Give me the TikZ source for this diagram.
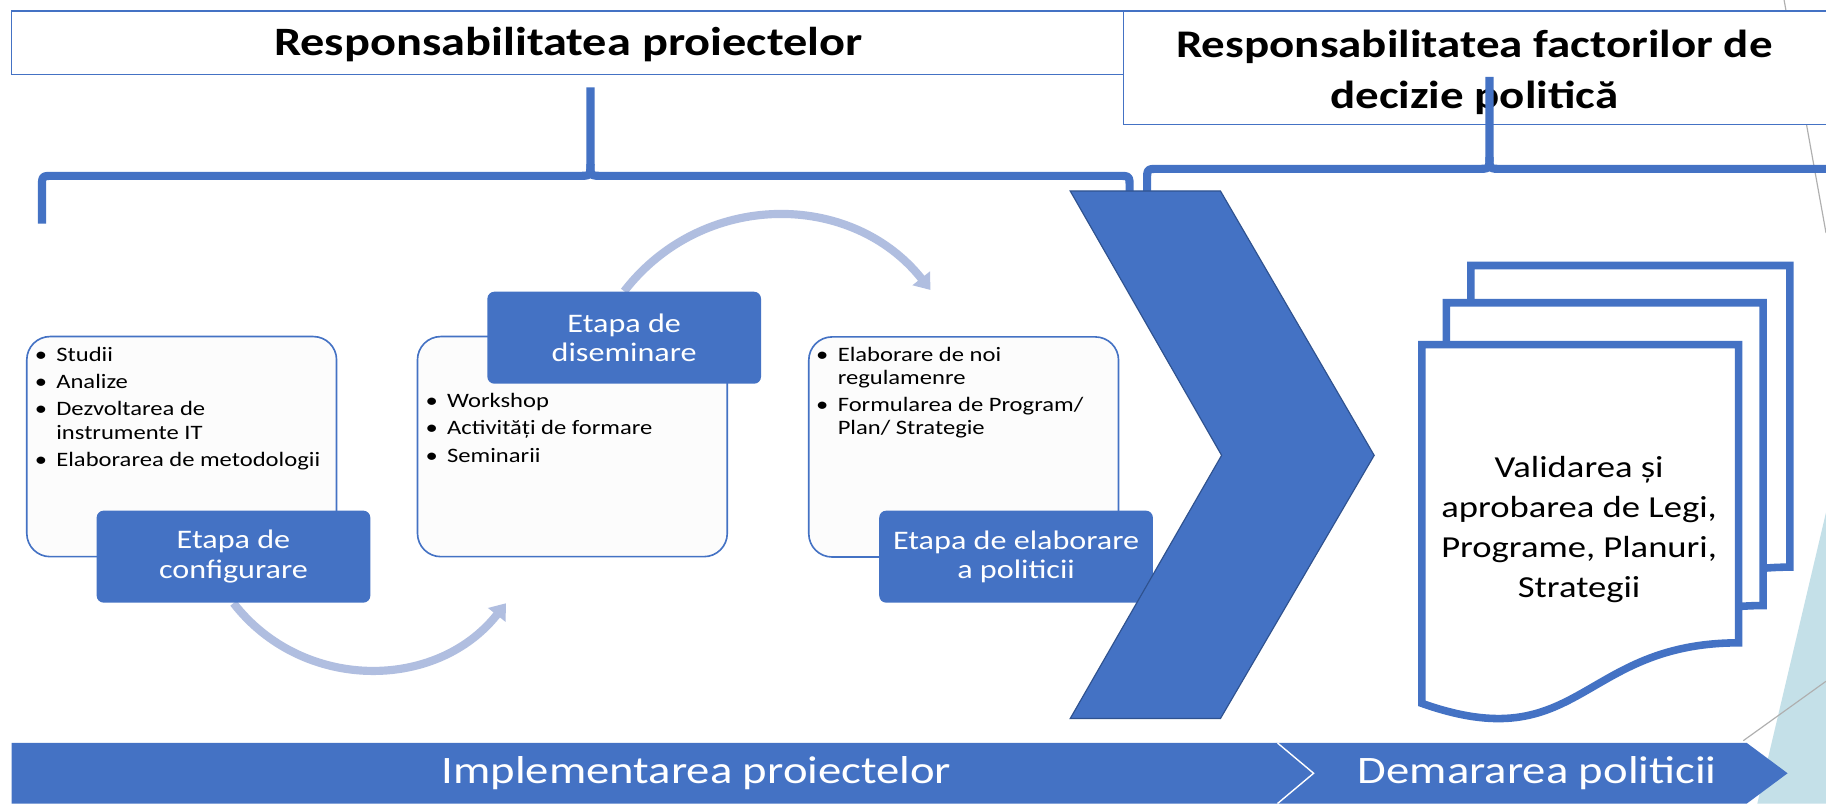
\documentclass[tikz,border=0pt]{standalone}
\usepackage{fontspec}
\setmainfont{Carlito}[FakeStretch=1.2]
\usetikzlibrary{arrows.meta}
\definecolor{pblue}{RGB}{68,114,196}
\definecolor{pedge}{RGB}{47,82,143}
\definecolor{parrow}{RGB}{176,190,224}
\definecolor{pfill}{RGB}{252,252,252}
\definecolor{plight}{RGB}{196,224,232}
\definecolor{pgray}{RGB}{175,175,175}
\pgfdeclarelayer{back}
\pgfsetlayers{back,main}
\newcommand\bul{\llap{\textbullet\hspace{4pt}}}
\newcommand\titlef{\bfseries\fontsize{17.3}{22}\selectfont}
\newcommand\titlefb{\bfseries\fontsize{16.8}{22}\selectfont}
\begin{document}
\begin{tikzpicture}[x=0.5pt,y=-0.5pt,
  tbox/.style={draw=pblue, line width=0.6pt, fill=white, inner sep=0pt},
  cbox/.style={draw=pblue, line width=0.7pt, fill=pfill, rounded corners=10pt,
    minimum width=133pt, minimum height=94.5pt, inner sep=0pt},
  lbox/.style={fill=pblue, rounded corners=3pt, minimum width=117.5pt,
    minimum height=39.5pt, text=white, align=center,
    font=\fontsize{11.5}{12.6}\selectfont, inner sep=0pt},
  blist/.style={anchor=base west, inner sep=0pt, font=\fontsize{8.8}{10}\selectfont},
  flow/.style={draw=parrow, line width=3.5pt, -{Triangle[width=9.2pt,length=6.4pt]}},
  brace/.style={draw=pblue, line width=3.5pt, line join=round},
  doc/.style={draw=pblue, fill=white, line width=3.25pt},
  doctext/.style={align=center, inner sep=0pt, font=\fontsize{13.1}{17.2}\selectfont},
  bar/.style={fill=pblue},
  bartext/.style={text=white, inner sep=0pt, font=\fontsize{16.7}{20}\selectfont},
  decor/.style={draw=pgray, line width=0.5pt}
]
\useasboundingbox (0,0) rectangle (1568,690);
\clip (0,0) rectangle (1568,690);

% title boxes
\node[tbox, minimum width=478pt, minimum height=27.25pt, font=\titlef,
      text height=11.2pt, text depth=0pt] (t1) at (488,36.75) {Responsabilitatea proiectelor};
\node[tbox, minimum width=303.5pt, minimum height=48.75pt] (t2) at (1268.5,58.25) {};
\node[font=\titlefb, align=center, inner sep=0pt] (t2txt) at (1266,62)
  {Responsabilitatea factorilor de\\decizie politică};

% braces
\draw[brace] (36,192) -- (36,161) .. controls (36,151) .. (46,151) -- (497,151)
  .. controls (507,151) .. (507,141) -- (507,75);
\draw[brace] (507,141) .. controls (507,151) .. (517,151) -- (960,151)
  .. controls (970,151) .. (970,161) -- (970,172);
\draw[brace] (985,172) -- (985,155) .. controls (985,145) .. (995,145) -- (1269,145)
  .. controls (1279,145) .. (1279,135) -- (1279,66);
\draw[brace] (1279,135) .. controls (1279,145) .. (1289,145) -- (1580,145);

% content boxes
\node[cbox] (c1) at (156,383.5) {};
\node[cbox] (c2) at (491.5,383.5) {};
\node[cbox] (c3) at (827.5,383.8) {};

\node[blist] (l1) at (48,310) {\begin{tabular}[t]{@{}l@{}}
\bul Studii\\[1.75pt]
\bul Analize\\[1.75pt]
\bul Dezvoltarea de\\
instrumente IT\\[1.75pt]
\bul Elaborarea de metodologii
\end{tabular}};
\node[blist] (l2) at (383.6,350) {\begin{tabular}[t]{@{}l@{}}
\bul Workshop\\[1.75pt]
\bul Activități de formare\\[1.75pt]
\bul Seminarii
\end{tabular}};
\node[blist] (l3) at (719,310) {\begin{tabular}[t]{@{}l@{}}
\bul Elaborare de noi\\
regulamenre\\[1.75pt]
\bul Formularea de Program/\\
Plan/ Strategie
\end{tabular}};

% stage labels
\node[lbox] (lab1) at (200.5,478) {Etapa de\\configurare};
\node[lbox] (lab2) at (536,290) {Etapa de\\diseminare};
\node[lbox] (lab3) at (872.5,478) {Etapa de elaborare\\a politicii};

% big chevron
\filldraw[fill=pblue, draw=pedge, line width=0.5pt]
  (919,164) -- (1048,164) -- (1180,391) -- (1048,617) -- (919,617) -- (1049,391) -- cycle;

% documents
\filldraw[doc] (1263,228) -- (1537,228) -- (1537,487)
  .. controls (1400,487) and (1400,587) .. (1263,540) -- cycle;
\filldraw[doc] (1242,260) -- (1514,260) -- (1514,520)
  .. controls (1378,520) and (1378,620) .. (1242,573) -- cycle;
\filldraw[doc] (1221,296) -- (1493,296) -- (1493,552)
  .. controls (1357,552) and (1357,652) .. (1221,604) -- cycle;
\node[doctext] (dtext) at (1356,455) {Validarea și\\aprobarea de Legi,\\Programe, Planuri,\\Strategii};

% bottom bar
\fill[bar] (10,638) -- (1097,638) -- (1128,664) -- (1097,690) -- (10,690) -- cycle;
\fill[bar] (1097,638) -- (1500,638) -- (1535,664) -- (1500,690) -- (1097,690) -- (1128,664) -- cycle;
\draw[white, line width=0.6pt] (1097,638) -- (1128,664) -- (1097,690);
\node[bartext] (impl) at (598,664) {Implementarea proiectelor};
\node[bartext] (dem) at (1320,664) {Demararea politicii};

\coordinate (a1end) at (434.5,518);
\coordinate (a2end) at (799,249);

\begin{pgfonlayer}{back}
\fill[white] (0,0) rectangle (1568,690);
\fill[plight] (1568,440) -- (1509,690) -- (1568,690) -- cycle;
\draw[decor] (1532,0) -- (1568,200);
\draw[decor] (1497,636) -- (1568,585);
\draw[flow] (lab1.south) .. controls (259.4,593.9) and (374.6,593.9) .. (a1end);
\draw[flow] (lab2.north) .. controls (602.9,163.4) and (731.1,163.4) .. (a2end);
\end{pgfonlayer}
\end{tikzpicture}
\end{document}
